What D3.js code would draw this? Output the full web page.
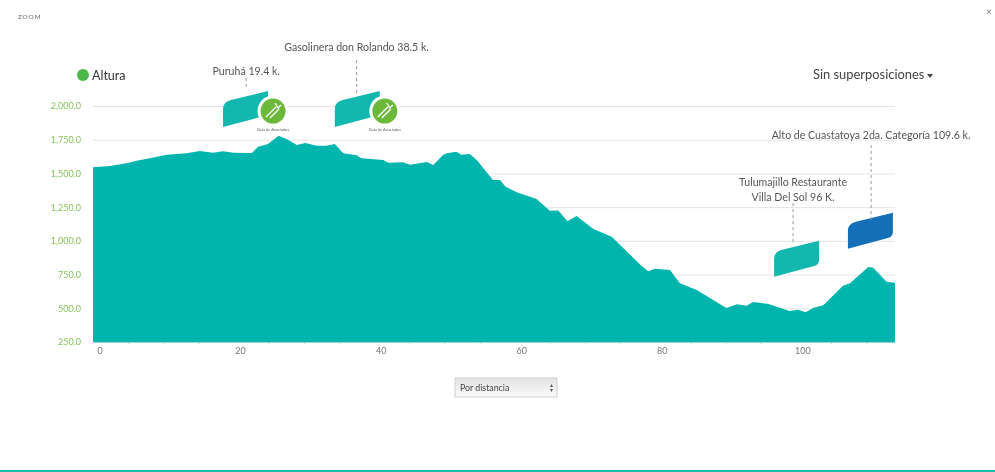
<!DOCTYPE html>
<html>
<head>
<meta charset="utf-8">
<script src="https://cdn.jsdelivr.net/npm/d3@7"></script>
<style>
  html, body { margin: 0; padding: 0; background: #fff; overflow: hidden; }
  svg { display: block; filter: blur(0.7px); font-family: 'Lato', sans-serif; }
</style>
</head>
<body>
<div id="chart"></div>
<script>
'use strict'

// profile: distance in km, height in metres
const distances = [0, 2.4, 4.8, 6.2, 8.6, 10.5, 13.3, 15.2, 17.1, 18.5, 20, 22.6, 23.5, 24.9, 26.4, 27.6, 29, 30.2, 31.8, 33.2, 34.4, 35.6, 37.5, 38.2, 41.3, 42, 44.1, 45.1, 47.5, 48.4, 49.8, 50.3, 51.7, 52.4, 53.6, 54.6, 56.9, 57.9, 58.7, 60.3, 63.1, 65, 66.2, 67.5, 68.8, 71.2, 73.8, 77.8, 79, 79.9, 82.1, 83.5, 85.9, 90.1, 91.6, 93, 93.9, 96.1, 99.1, 100.3, 101.4, 102.5, 103.9, 106.7, 107.7, 110.3, 111, 112.9, 114.1]
const heights = [1545, 1555, 1575, 1594, 1619, 1639, 1649, 1666, 1654, 1664, 1654, 1651, 1698, 1718, 1780, 1753, 1711, 1726, 1706, 1706, 1718, 1649, 1634, 1612, 1600, 1580, 1582, 1565, 1585, 1562, 1637, 1649, 1661, 1639, 1644, 1600, 1451, 1451, 1402, 1360, 1310, 1224, 1226, 1145, 1184, 1088, 1031, 826, 774, 794, 784, 685, 636, 502, 530, 519, 547, 532, 480, 490, 470, 504, 522, 667, 685, 806, 801, 697, 690]

const yTicks = [250, 500, 750, 1000, 1250, 1500, 1750, 2000]
const xTicks = [0, 20, 40, 60, 80, 100]
const xMinorTicks = [5, 10, 15, 25, 30, 35, 45, 50, 55, 65, 70, 75, 85, 90, 95, 105, 110]

// flags: where the flag sits and where its dashed line runs
const flagLabels = [['Puruhá 19.4 k.'], ['Gasolinera don Rolando 38.5  k.'], ['Tulumajillo Restaurante', 'Villa Del Sol 96 K.'], ['Alto de Cuastatoya 2da. Categoría 109.6 k.']]
const flagKm = [18.5, 34.4, 96.9, 107.4]
const flagHeights = [1844, 1844, 734, 942]
const flagColors = ['#12b8ae', '#12b8ae', '#12b8ae', '#1570b8']
const lineKm = [21.8, 37.5, 99.6, 110.7]
const lineTop = [2208, 2341, 1280, 1711]
const lineBottom = [2126, 2096, 969, 1132]
const labelHeights = [2233, 2411, 1410, 1752]
const logoFlags = [true, true, false, false]

const width = 995
const height = 472

const formatHeight = d3.format(',.1f')

const svg = d3.select('#chart')
  .append('svg')
    .attr('width', width)
    .attr('height', height)

const x = d3.scaleLinear().domain([0, 114.1]).range([93, 895])
const y = d3.scaleLinear().domain([250, 2000]).range([342, 106])

// grid lines, drawn through the y axis
const yAxis = svg.append('g')
  .attr('transform', 'translate(93, 0)')
  .call(d3.axisLeft(y)
    .tickValues(yTicks)
    .tickSize(-802)
    .tickPadding(12)
    .tickFormat(formatHeight))
yAxis.select('.domain').remove()
yAxis.selectAll('line').attr('stroke', '#e4e4e4')
yAxis.selectAll('text')
  .attr('fill', '#86c35c')
  .attr('font-size', 9)
  .attr('font-family', 'Lato, sans-serif')

// profile
svg.append('path')
  .datum(distances)
  .attr('fill', '#00b5ad')
  .attr('d', d3.area()
    .x(d => x(d))
    .y0(y(250))
    .y1((d, i) => y(heights[i]))
  )

const xMinor = svg.append('g')
  .attr('transform', `translate(0, ${y(250)})`)
  .call(d3.axisBottom(x)
    .tickValues(xMinorTicks)
    .tickSize(2)
    .tickFormat(''))
xMinor.select('.domain').remove()
xMinor.selectAll('line').attr('stroke', '#a8e2de')

const xAxis = svg.append('g')
  .attr('transform', `translate(0, ${y(250)})`)
  .call(d3.axisBottom(x)
    .tickValues(xTicks)
    .tickSize(0)
    .tickPadding(6))
xAxis.select('.domain').attr('stroke', '#8fd8d3')
xAxis.selectAll('text')
  .attr('dx', 6.5)
  .attr('fill', '#777')
  .attr('font-size', 9)
  .attr('font-family', 'Lato, sans-serif')

// flag outline, relative to its lower left corner
const flagPath = 'M0,0 V-18 Q0,-25 8,-27 L45,-36 V-17 Q45,-12 40,-10.7 Z'

flagLabels.forEach((lines, i) => {
  const lineX = x(lineKm[i])

  svg.append('path')
    .attr('transform', `translate(${x(flagKm[i])}, ${y(flagHeights[i])})`)
    .attr('d', flagPath)
    .attr('fill', flagColors[i])

  svg.append('line')
    .attr('x1', lineX)
    .attr('x2', lineX)
    .attr('y1', y(lineTop[i]))
    .attr('y2', y(lineBottom[i]))
    .attr('stroke', '#999')
    .attr('stroke-dasharray', '3,3')

  lines.forEach((line, j) => {
    svg.append('text')
      .attr('x', lineX)
      .attr('y', y(labelHeights[i]) + j * 15)
      .attr('text-anchor', 'middle')
      .attr('font-size', 10.6)
      .attr('fill', '#555')
      .text(line)
  })

  if (logoFlags[i]) {
    const logo = svg.append('g')
      .attr('transform', `translate(${x(flagKm[i]) + 50}, ${y(flagHeights[i]) - 16})`)
    logo.append('circle').attr('r', 15.5).attr('fill', '#fff')
    logo.append('circle').attr('r', 12.5).attr('fill', '#6cb83a')
    logo.append('path')
      .attr('d', 'M-7,6 L3,-4 M-3,7 L6,-2 M2,-8 L5,-3 L8,-6')
      .attr('fill', 'none')
      .attr('stroke', '#fff')
      .attr('stroke-width', 1.3)
    logo.append('text')
      .attr('y', 19.5)
      .attr('text-anchor', 'middle')
      .attr('font-size', 4)
      .attr('fill', '#666')
      .text('Guía de Asociados')
  }
})

// legend and the rest of the dialog
svg.append('circle').attr('cx', 83).attr('cy', 75).attr('r', 6).attr('fill', '#4cb848')
svg.append('text').attr('x', 92).attr('y', 79.5).attr('font-size', 12.5).attr('fill', '#333').text('Altura')
svg.append('text').attr('x', 18).attr('y', 18.5).attr('font-size', 6.5).attr('letter-spacing', 0.8).attr('fill', '#666').text('ZOOM')
svg.append('text').attr('x', 989).attr('y', 15).attr('text-anchor', 'middle').attr('font-size', 10).attr('fill', '#777').text('×')
svg.append('text').attr('x', 813).attr('y', 79).attr('font-size', 12.9).attr('fill', '#444').text('Sin superposiciones')
svg.append('path').attr('d', 'M927,74 h6 l-3,4 Z').attr('fill', '#444')

const grad = svg.append('defs').append('linearGradient')
  .attr('id', 'selectBg')
  .attr('x1', 0).attr('x2', 0).attr('y1', 0).attr('y2', 1)
grad.append('stop').attr('offset', 0).attr('stop-color', '#e2e2e2')
grad.append('stop').attr('offset', 1).attr('stop-color', '#fafafa')

svg.append('rect')
  .attr('x', 455).attr('y', 378)
  .attr('width', 102).attr('height', 19)
  .attr('fill', 'url(#selectBg)')
  .attr('stroke', '#d0d0d0')
svg.append('text').attr('x', 460).attr('y', 391).attr('font-size', 8.8).attr('fill', '#444').text('Por distancia')
svg.append('path').attr('d', 'M550,387 l1.5,-3 l1.5,3 Z M550,389 l1.5,3 l1.5,-3 Z').attr('fill', '#555')

svg.append('rect')
  .attr('x', 0).attr('y', 470)
  .attr('width', width).attr('height', 2)
  .attr('fill', '#1abcb0')
</script>
</body>
</html>
